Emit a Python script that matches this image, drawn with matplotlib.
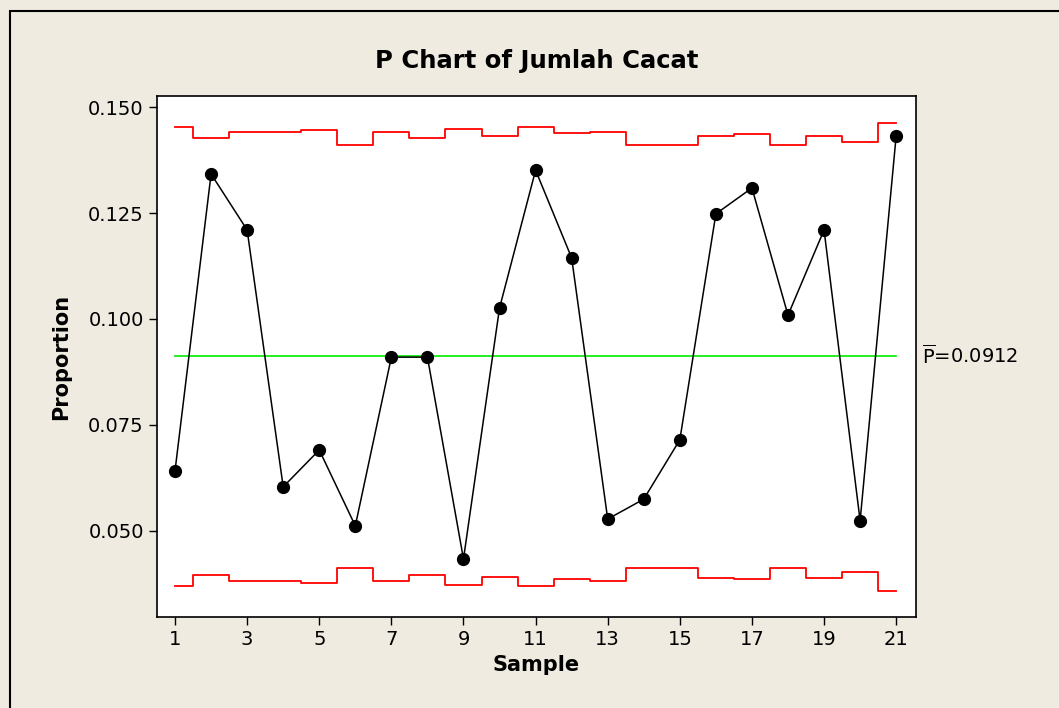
import matplotlib

matplotlib.use("Agg")
import matplotlib.pyplot as plt  # noqa: E402
from matplotlib.patches import Rectangle  # noqa: E402

# values
samples = list(range(1, 22))
proportion = [0.0642, 0.1342, 0.1210, 0.0604, 0.0691, 0.0512, 0.0910, 0.0910, 0.0434, 0.1026,
              0.1351, 0.1144, 0.0528, 0.0575, 0.0715, 0.1248, 0.1309, 0.1009, 0.1210, 0.0524, 0.1432]
ucl = [0.1453, 0.1427, 0.1441, 0.1441, 0.1445, 0.1410, 0.1440, 0.1427, 0.1448, 0.1432,
       0.1453, 0.1439, 0.1441, 0.1410, 0.1410, 0.1432, 0.1436, 0.1410, 0.1432, 0.1418, 0.1462]
lcl = [0.0369, 0.0395, 0.0381, 0.0381, 0.0377, 0.0412, 0.0381, 0.0395, 0.0373, 0.0391,
       0.0369, 0.0386, 0.0381, 0.0412, 0.0412, 0.0390, 0.0386, 0.0412, 0.0390, 0.0403, 0.0359]
p_bar = 0.0912
x_ticks = [1, 3, 5, 7, 9, 11, 13, 15, 17, 19, 21]
y_ticks = [0.050, 0.075, 0.100, 0.125, 0.150]

BG = "#EFEBE1"
plt.rcParams["font.family"] = "DejaVu Sans"
plt.rcParams["mathtext.fontset"] = "dejavusans"

fig = plt.figure(figsize=(10.59, 7.08), dpi=100, facecolor=BG)
# outer frame (only top/left visible in reference)
fig.patches.append(Rectangle((10 / 1059, -0.1), 1.2, 1 - 11 / 708 + 0.1, transform=fig.transFigure,
                             fill=False, edgecolor="black", linewidth=1.5))

ax = fig.add_axes([157 / 1059, 1 - 617 / 708, (916 - 157) / 1059, (617 - 96) / 708])
ax.set_facecolor("white")

ax.step(samples, ucl, where="mid", color="#FF0000", linewidth=1.3)
ax.step(samples, lcl, where="mid", color="#FF0000", linewidth=1.3)
ax.plot([samples[0], samples[-1]], [p_bar, p_bar], color="#00EE00", linewidth=1.2)
ax.plot(samples, proportion, color="black", linewidth=1.1, marker="o", markersize=8.5)

ax.set_xlim(0.5, 21.55)
ax.set_ylim(0.0297, 0.1526)
ax.set_xticks(x_ticks)
ax.set_yticks(y_ticks)
ax.set_yticklabels([f"{v:.3f}" for v in y_ticks])
ax.tick_params(direction="out", length=6, width=1, labelsize=14, colors="black")
for s in ax.spines.values():
    s.set_linewidth(1.2)

ax.text(21.55 + 0.17, p_bar, r"$\overline{\mathrm{P}}$=0.0912", fontsize=14, va="center", ha="left",
        clip_on=False)

ax.set_title("P Chart of Jumlah Cacat", fontsize=17.5, fontweight="bold", pad=20)
ax.set_xlabel("Sample", fontsize=15, fontweight="bold", labelpad=4)
ax.set_ylabel("Proportion", fontsize=15, fontweight="bold", labelpad=12)

fig.savefig("out.png", dpi=100, facecolor=BG)
